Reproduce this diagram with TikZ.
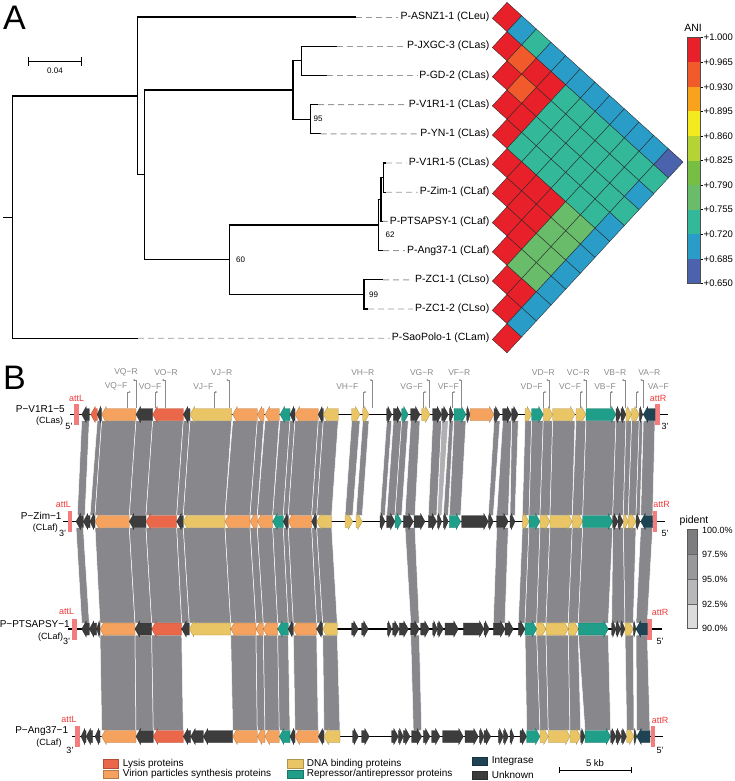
\documentclass[tikz,border=0pt]{standalone}
\usepackage{fontspec}
\setmainfont{Liberation Sans}
\usetikzlibrary{arrows.meta}
\definecolor{hR}{HTML}{E8202A}
\definecolor{hO}{HTML}{F15A2B}
\definecolor{hY}{HTML}{F8A31B}
\definecolor{hYe}{HTML}{F4EB1E}
\definecolor{hYG}{HTML}{B5D334}
\definecolor{hG}{HTML}{76BE44}
\definecolor{hLG}{HTML}{69BD6A}
\definecolor{hT}{HTML}{33B99A}
\definecolor{hB}{HTML}{2A9CC8}
\definecolor{hD}{HTML}{4B62AD}
\definecolor{gLy}{HTML}{EA6849}
\definecolor{gVi}{HTML}{F4A25D}
\definecolor{gDn}{HTML}{EAC565}
\definecolor{gRe}{HTML}{1F9E89}
\definecolor{gIn}{HTML}{1E4454}
\definecolor{gUn}{HTML}{3C3C3C}
\definecolor{rib}{HTML}{88888C}
\definecolor{ribl}{HTML}{B0B0B3}
\definecolor{attc}{HTML}{F47C7C}
\definecolor{atttx}{HTML}{EE3A3A}
\definecolor{prim}{HTML}{8A8A8A}
\definecolor{p1}{HTML}{7D7D80}
\definecolor{p2}{HTML}{98989B}
\definecolor{p3}{HTML}{B8B8BA}
\definecolor{p4}{HTML}{DCDCDD}
% heatmap cell (i,j): sheared diamond grid
\newcommand{\hc}[3]{\filldraw[fill=#3,draw=black!85,line width=0.35pt] ({507+14.67*(#2-#1)},{17+13.3*#2+15.9*#1-14.6}) -- ++(14.67,13.3) -- ++(-14.67,15.9) -- ++(-14.67,-13.3) -- cycle;}
\newcommand{\geneL}[3]{\pgfmathsetmacro{\hh}{min(4.5,(#2-#1)*0.75)}%
  \filldraw[fill=#3,draw=#3!75!black,line width=0.3pt] (#1,\ty) -- ({#1+\hh},{\ty-8}) -- ({#1+\hh},{\ty-6}) -- (#2,{\ty-6}) -- (#2,{\ty+6}) -- ({#1+\hh},{\ty+6}) -- ({#1+\hh},{\ty+8}) -- cycle;}
\newcommand{\geneR}[3]{\pgfmathsetmacro{\hh}{min(4.5,(#2-#1)*0.75)}%
  \filldraw[fill=#3,draw=#3!75!black,line width=0.3pt] (#2,\ty) -- ({#2-\hh},{\ty-8}) -- ({#2-\hh},{\ty-6}) -- (#1,{\ty-6}) -- (#1,{\ty+6}) -- ({#2-\hh},{\ty+6}) -- ({#2-\hh},{\ty+8}) -- cycle;}
\newcommand{\rib}[4]{\filldraw[fill=rib,draw=white,line width=0.5pt] (#1,\yt) -- (#2,\yt) -- (#4,\yb) -- (#3,\yb) -- cycle;}
\newcommand{\ribL}[4]{\filldraw[fill=ribl,draw=white,line width=0.5pt] (#1,\yt) -- (#2,\yt) -- (#4,\yb) -- (#3,\yb) -- cycle;}
\newcommand{\primF}[1]{\draw[prim,line width=0.5pt,-{Stealth[length=2pt,width=2pt]}] (#1,407.5) -- (#1,392) -- ++(3,0);}
\newcommand{\primR}[1]{\draw[prim,line width=0.5pt,-{Stealth[length=2pt,width=2pt]}] (#1,407.5) -- (#1,380) -- ++(-3,0);}
\begin{document}
\begin{tikzpicture}[x=1pt,y=-1pt,
  br/.style={line width=1.1pt,black},
  dsh/.style={line width=0.9pt,black!40,dash pattern=on 6pt off 4pt},
  leaf/.style={font=\fontsize{10.5}{12}\selectfont,inner sep=0,anchor=east},
  bs/.style={font=\fontsize{8}{9}\selectfont,inner sep=0,anchor=west},
  big/.style={font=\fontsize{34}{34}\selectfont,inner sep=0,anchor=base west},
  tick/.style={font=\fontsize{9.5}{11}\selectfont,inner sep=0,anchor=west},
  trk/.style={font=\fontsize{10}{12}\selectfont,inner sep=0,anchor=east},
  trks/.style={font=\fontsize{9}{11}\selectfont,inner sep=0,anchor=east},
  att/.style={font=\fontsize{9}{11}\selectfont,inner sep=0,text=atttx},
  pr/.style={font=\fontsize{8.5}{10}\selectfont,inner sep=0,text=prim},
  leg/.style={font=\fontsize{10}{12}\selectfont,inner sep=0,anchor=west},
  sw/.style={line width=0.4pt}]
\useasboundingbox (0,0) rectangle (735,781);
% ---------- Panel A ----------
\node[big] (labA) at (3,30) {A};
\node[big] (labB) at (3,389) {B};
% scale bar
\coordinate (sb1) at (28,61.7); \coordinate (sb2) at (81.3,61.7);
\draw[line width=1pt] (sb1) -- (sb2);
\draw[line width=1pt] (28,57.5) -- (28,66); \draw[line width=1pt] (81.3,57.5) -- (81.3,66);
\node[font=\fontsize{8}{9}\selectfont,inner sep=0] (sbt) at (55,70.5) {0.04};
% leaves (branch ends)
\coordinate (e0) at (356,17);
\coordinate (e1) at (336.7,46.2);
\coordinate (e2) at (326.7,75.4);
\coordinate (e3) at (318,104.6);
\coordinate (e4) at (320.7,133.8);
\coordinate (e5) at (386,163);
\coordinate (e6) at (386,192.2);
\coordinate (e7) at (383,221.4);
\coordinate (e8) at (383,250.6);
\coordinate (e9) at (383,279.8);
\coordinate (e10) at (368,309);
\coordinate (e11) at (138,338.2);
% internal nodes
\coordinate (nJG) at (301.3,60.8);
\coordinate (nVY) at (310.7,119.2);
\coordinate (nLas) at (293,90);
\coordinate (nVZ) at (383.3,177.6);
\coordinate (nVZP) at (381,199.5);
\coordinate (n62) at (378.3,225);
\coordinate (nZC) at (364,294.4);
\coordinate (n60) at (229.7,259.7);
\coordinate (nB) at (144.6,174.9);
\coordinate (nA) at (137.6,96);
\coordinate (nR) at (12.3,217.1);
\coordinate (nRs) at (3,217.1);
\draw[br] (e1) -| (nJG) |- (e2);
\draw[br] (e3) -| (nVY) |- (e4);
\draw[br] (nJG) -| (nLas) |- (nVY);
\draw[br] (e5) -| (nVZ) |- (e6);
\draw[br] (nVZ) -| (nVZP) |- (e7);
\draw[br] (nVZP) -| (n62) |- (e8);
\draw[br] (e9) -| (nZC) |- (e10);
\draw[br] (n62) -| (n60) |- (nZC);
\draw[br] (nLas) -| (nB) |- (n60);
\draw[br] (e0) -| (nA) |- (nB);
\draw[br] (nA) -| (nR) |- (e11);
\draw[br] (nRs) -- (nR);
\node[bs] (b95) at (313.5,119.2) {95};
\node[bs] (b60) at (236,259.7) {60};
\node[bs] (b62) at (385.5,235) {62};
\node[bs] (b99) at (369,295) {99};
% leaf labels
\foreach \i/\t in {0/P-ASNZ1-1 (CLeu),1/P-JXGC-3 (CLas),2/P-GD-2 (CLas),3/P-V1R1-1 (CLas),4/P-YN-1 (CLas),5/P-V1R1-5 (CLas),6/P-Zim-1 (CLaf),7/P-PTSAPSY-1 (CLaf),8/P-Ang37-1 (CLaf),9/P-ZC1-1 (CLso),10/P-ZC1-2 (CLso),11/P-SaoPolo-1 (CLam)}{
  \node[leaf] (L\i) at (489.5,{17+29.2*\i}) {\t};
  \draw[dsh] (e\i) -- ([xshift=-2pt]L\i.west);
}
% heatmap
\foreach \i in {0,...,11}{\hc{\i}{\i}{hR}}
\foreach \i/\j/\c in {0/1/hB,0/2/hT,0/3/hB,0/4/hB,0/5/hB,0/6/hB,0/7/hB,0/8/hB,0/9/hB,0/10/hB,0/11/hD,
  1/2/hO,1/3/hR,1/4/hR,1/5/hT,1/6/hT,1/7/hT,1/8/hT,1/9/hT,1/10/hT,1/11/hT,
  2/3/hO,2/4/hR,2/5/hT,2/6/hT,2/7/hT,2/8/hT,2/9/hT,2/10/hT,2/11/hB,
  3/4/hR,3/5/hT,3/6/hT,3/7/hT,3/8/hT,3/9/hT,3/10/hT,3/11/hT,
  4/5/hT,4/6/hT,4/7/hT,4/8/hT,4/9/hT,4/10/hT,4/11/hB,
  5/6/hR,5/7/hR,5/8/hR,5/9/hLG,5/10/hLG,5/11/hB,
  6/7/hR,6/8/hR,6/9/hLG,6/10/hLG,6/11/hB,
  7/8/hR,7/9/hLG,7/10/hLG,7/11/hB,
  8/9/hLG,8/10/hLG,8/11/hB,
  9/10/hR,9/11/hB,10/11/hB}{\hc{\i}{\j}{\c}}
% ANI legend
\node[font=\fontsize{10.5}{12}\selectfont,inner sep=0] (ani) at (693,28) {ANI};
\foreach \k/\c/\t in {0/hR/+1.000,1/hO/+0.965,2/hY/+0.930,3/hYe/+0.895,4/hYG/+0.860,5/hG/+0.825,6/hLG/+0.790,7/hT/+0.755,8/hB/+0.720,9/hD/+0.685}{
  \fill[\c] (687.3,{37.7+24.56*\k}) rectangle (700,{37.7+24.56*(\k+1)});
  \draw[line width=0.4pt] (700,{37.7+24.56*\k}) -- (702.5,{37.7+24.56*\k});
  \node[tick] (t\k) at (703.5,{37.7+24.56*\k}) {\t};
}
\draw[line width=0.4pt] (700,283.3) -- (702.5,283.3);
\node[tick] (t10) at (703.5,283.3) {+0.650};
\draw[line width=0.4pt,black!70] (687.3,37.7) rectangle (700,283.3);
% ---------- Panel B ----------
% ribbons T1->T2
\def\yt{420.5}\def\yb{515.5}
\rib{81.7}{89.3}{77.3}{85}
\rib{97.3}{101.7}{90}{95}
\rib{101.7}{136}{95}{129.3}
\rib{136}{152.7}{129.3}{146}
\rib{152.7}{183.3}{146}{176.7}
\rib{183.3}{190}{176.7}{183.3}
\rib{190}{231.7}{183.3}{225}
\rib{232.7}{257.3}{225}{250}
\rib{257.3}{264}{250}{257.3}
\rib{265}{279.3}{257.3}{272.7}
\rib{280}{290}{272.7}{283.3}
\rib{290}{295}{283.3}{288.3}
\rib{295}{318.3}{288.3}{311.7}
\rib{318.3}{323.3}{311.7}{316.7}
\rib{323.3}{338.3}{316.7}{331.7}
\rib{351.7}{360}{345}{352.7}
\rib{362.7}{369}{356}{362.3}
\rib{386.7}{391.7}{380}{385}
\rib{393.3}{401.7}{386.7}{395}
\rib{401.7}{408.3}{395}{401.7}
\rib{410.7}{420}{405}{415}
\rib{432.7}{441.7}{428.3}{436.7}
\ribL{441.7}{448.3}{437.3}{441.7}
\rib{449.3}{453.3}{443.3}{448.3}
\rib{454}{466}{449.3}{460.7}
\rib{494}{500}{488.3}{493.3}
\rib{502.7}{511.7}{496.7}{508.3}
\rib{511.7}{518.3}{510}{515}
\rib{525}{531.7}{522.3}{529}
\rib{531.7}{543.3}{529}{540}
\rib{543.3}{552.7}{540}{550}
\rib{552.7}{575}{550}{572.3}
\rib{576}{586}{572.3}{582.7}
\rib{586}{616}{582.7}{612.7}
\rib{616}{626}{612.7}{623.3}
\rib{626}{631.7}{623.3}{628.3}
\rib{631.7}{639.3}{628.3}{636}
\rib{639.3}{642.7}{636}{640}
\rib{643.3}{655}{640.7}{652.7}
% ribbons T2->T3
\def\yt{527.5}\def\yb{623}
\rib{76}{83.3}{81.7}{89.3}
\rib{95}{129.3}{100}{135}
\rib{129.3}{146}{135}{151.7}
\rib{146}{176.7}{151.7}{181.7}
\rib{176.7}{183.3}{181.7}{189.3}
\rib{183.3}{225}{189.3}{230.7}
\rib{225}{250}{230.7}{256}
\rib{250}{257.3}{256}{263.3}
\rib{257.3}{272.7}{263.3}{277.7}
\rib{272.7}{283.3}{277.7}{288.3}
\rib{283.3}{288.3}{288.3}{293.3}
\rib{288.3}{311.7}{293.3}{316.7}
\rib{311.7}{316.7}{316.7}{322.7}
\rib{316.7}{331.7}{322.7}{337.3}
\rib{405}{415}{410.7}{419.3}
\rib{496.7}{508.3}{493.3}{505}
\rib{522.3}{529}{518.3}{525}
\rib{529}{540}{525}{536.7}
\rib{540}{550}{536.7}{546}
\rib{550}{572.3}{546}{568.3}
\rib{572.3}{582.7}{568.3}{578.3}
\rib{582.7}{612.7}{578.3}{608.3}
\rib{612.7}{623.3}{611.7}{625}
\rib{623.3}{636}{625}{633.3}
\rib{640.7}{652.7}{636}{647.3}
% ribbons T3->T4
\def\yt{635}\def\yb{730.5}
\rib{100}{135}{101.7}{136}
\rib{135}{151.7}{136}{153.3}
\rib{151.7}{181.7}{153.3}{183.3}
\rib{230.7}{256}{232.7}{257.3}
\rib{256}{263.3}{257.3}{265}
\rib{263.3}{277.7}{265}{279.3}
\rib{277.7}{288.3}{279.3}{290}
\rib{293.3}{316.7}{295}{318.3}
\rib{322.7}{337.3}{324}{340}
\rib{410.7}{419.3}{413.3}{421.7}
\rib{525}{536.7}{526.7}{540}
\rib{536.7}{546}{540}{548.3}
\rib{546}{568.3}{548.3}{570}
\rib{568.3}{578.3}{570}{580.7}
\rib{578.3}{608.3}{585}{610.7}
\rib{625}{633.3}{626.7}{634}
\rib{636}{647.3}{636.7}{650}
% backbones
\draw[line width=1.2pt] (70,414.5) -- (668,414.5);
\draw[line width=1.2pt] (63.3,521.5) -- (665,521.5);
\draw[line width=1.2pt] (68.3,629) -- (661.7,629);
\draw[line width=1.2pt] (71.7,736.5) -- (663.3,736.5);
% att sites
\fill[attc] (74,404) rectangle (78.7,425);
\fill[attc] (655,404) rectangle (660,425);
\fill[attc] (67.7,511) rectangle (71.7,532);
\fill[attc] (652.7,511) rectangle (657.3,532);
\fill[attc] (71.7,618.5) rectangle (76.7,639.5);
\fill[attc] (647.3,618.5) rectangle (652,639.5);
\fill[attc] (75,726) rectangle (80,747);
\fill[attc] (650.7,726) rectangle (655.3,747);
% genes track 1
\def\ty{414.5}
\geneL{81.7}{89.3}{gUn}\geneL{90.7}{97.3}{gLy}\geneL{97.3}{101.7}{gUn}\geneL{101.7}{136}{gVi}
\geneL{136}{152.7}{gUn}\geneL{152.7}{183.3}{gLy}\geneL{183.3}{190}{gUn}\geneL{190}{231.7}{gDn}
\geneL{232.7}{257.3}{gVi}\geneL{257.3}{264}{gVi}\geneL{265}{279.3}{gVi}\geneL{280}{290}{gRe}
\geneL{290}{295}{gUn}\geneL{295}{318.3}{gVi}\geneL{318.3}{323.3}{gUn}\geneL{323.3}{338.3}{gDn}
\geneR{351.7}{360}{gDn}\geneR{362.7}{369}{gDn}\geneR{386.7}{391.7}{gUn}\geneR{393.3}{401.7}{gUn}
\geneR{401.7}{408.3}{gRe}\geneR{410.7}{420}{gUn}\geneR{421.7}{430}{gDn}\geneR{432.7}{441.7}{gUn}
\geneR{441.7}{448.3}{gUn}\geneR{449.3}{453.3}{gUn}\geneR{454}{466}{gRe}\geneR{466.7}{470}{gUn}
\geneR{470}{494}{gVi}\geneR{494}{500}{gUn}\geneR{502.7}{511.7}{gUn}\geneR{511.7}{518.3}{gUn}
\geneR{525}{531.7}{gDn}\geneR{531.7}{543.3}{gRe}\geneR{543.3}{552.7}{gDn}\geneR{552.7}{575}{gDn}
\geneR{576}{586}{gDn}\geneR{586}{616}{gRe}\geneR{616}{621}{gUn}\geneR{621}{626}{gUn}
\geneR{626}{631.7}{gDn}\geneR{631.7}{639.3}{gDn}\geneR{639.3}{642.7}{gUn}\geneL{643.3}{655}{gIn}
% genes track 2
\def\ty{521.5}
\geneL{76}{83.3}{gUn}\geneL{83.3}{90}{gUn}\geneL{90}{95}{gUn}\geneL{95}{129.3}{gVi}
\geneL{129.3}{146}{gUn}\geneL{146}{176.7}{gLy}\geneL{176.7}{183.3}{gUn}\geneL{183.3}{225}{gDn}
\geneL{225}{250}{gVi}\geneL{250}{257.3}{gVi}\geneL{257.3}{272.7}{gVi}\geneL{272.7}{283.3}{gRe}
\geneL{283.3}{288.3}{gUn}\geneL{288.3}{311.7}{gVi}\geneL{311.7}{316.7}{gUn}\geneL{316.7}{331.7}{gDn}
\geneR{345}{352.7}{gDn}\geneR{356}{362.3}{gDn}\geneR{380}{385}{gUn}\geneR{386.7}{395}{gUn}
\geneR{395}{401.7}{gRe}\geneR{403.3}{413.3}{gUn}\geneR{414}{425}{gUn}\geneR{428.3}{436.7}{gUn}
\geneR{437.3}{441.7}{gUn}\geneR{443.3}{448.3}{gUn}\geneR{449.3}{460.7}{gRe}\geneR{461.7}{488.3}{gUn}
\geneR{488.3}{493.3}{gUn}\geneR{496.7}{508.3}{gUn}\geneR{510}{515}{gUn}\geneR{522.3}{529}{gDn}
\geneR{529}{540}{gRe}\geneR{540}{550}{gDn}\geneR{550}{572.3}{gDn}\geneR{572.3}{582.7}{gDn}
\geneR{582.7}{612.7}{gRe}\geneR{612.7}{618}{gUn}\geneR{618}{623.3}{gUn}\geneR{623.3}{628.3}{gDn}
\geneR{628.3}{636}{gDn}\geneR{636}{640}{gUn}\geneL{640.7}{652.7}{gIn}
% genes track 3
\def\ty{629}
\geneL{81.7}{89.3}{gUn}\geneL{89.3}{96.7}{gUn}\geneL{96.7}{100}{gUn}\geneL{100}{135}{gVi}
\geneL{135}{151.7}{gUn}\geneL{151.7}{181.7}{gLy}\geneL{181.7}{189.3}{gUn}\geneL{189.3}{230.7}{gDn}
\geneL{230.7}{256}{gVi}\geneL{256}{263.3}{gVi}\geneL{263.3}{277.7}{gVi}\geneL{277.7}{288.3}{gRe}
\geneL{288.3}{293.3}{gUn}\geneL{293.3}{316.7}{gVi}\geneL{316.7}{322.7}{gUn}\geneL{322.7}{337.3}{gDn}
\geneR{351.7}{358.3}{gUn}\geneR{361.7}{368.3}{gUn}\geneR{387.3}{391.7}{gUn}\geneR{392.7}{399.3}{gUn}
\geneR{399.3}{408.3}{gUn}\geneR{410.7}{419.3}{gUn}\geneR{420.7}{429.3}{gUn}\geneR{432.7}{437.3}{gUn}
\geneR{437.3}{443.3}{gUn}\geneR{445}{458.3}{gUn}\geneR{463.3}{484}{gUn}\geneR{484}{489.3}{gUn}
\geneR{493.3}{505}{gUn}\geneR{505}{513.3}{gUn}\geneR{518.3}{525}{gUn}\geneR{525}{536.7}{gRe}
\geneR{536.7}{546}{gDn}\geneR{546}{568.3}{gDn}\geneR{568.3}{578.3}{gDn}\geneR{578.3}{608.3}{gRe}
\geneR{611.7}{616}{gUn}\geneR{616}{620.5}{gUn}\geneR{620.5}{625}{gUn}\geneR{625}{633.3}{gDn}
\geneR{633.3}{636}{gUn}\geneL{636}{647.3}{gIn}
% genes track 4
\def\ty{736.5}
\geneL{81}{86}{gUn}\geneL{86}{92.7}{gUn}\geneL{95}{100}{gUn}\geneL{101.7}{136}{gVi}
\geneL{136}{153.3}{gUn}\geneL{153.3}{183.3}{gLy}\geneL{183.3}{190.7}{gUn}\geneL{190.7}{203.3}{gUn}
\geneL{203.3}{232.7}{gUn}\geneL{232.7}{257.3}{gVi}\geneL{257.3}{265}{gVi}\geneL{265}{279.3}{gVi}
\geneL{279.3}{290}{gRe}\geneL{290}{295}{gUn}\geneL{295}{318.3}{gVi}\geneL{318.3}{324}{gUn}
\geneL{324}{340}{gDn}
\geneR{352.7}{358.3}{gUn}\geneR{361.7}{369.3}{gUn}\geneR{391.7}{398.3}{gUn}\geneR{398.3}{403.3}{gUn}
\geneR{403.3}{410}{gUn}\geneR{411.7}{421.7}{gUn}\geneR{423.3}{430}{gUn}\geneR{431.7}{440}{gUn}
\geneR{442.7}{463.3}{gUn}\geneR{465}{478.3}{gUn}\geneR{479.3}{484}{gUn}\geneR{484}{490.7}{gUn}
\geneR{498.3}{503.3}{gUn}\geneR{503.3}{508.3}{gUn}\geneR{510}{514}{gUn}\geneR{520}{526.7}{gUn}
\geneR{526.7}{540}{gRe}\geneR{540}{548.3}{gDn}\geneR{548.3}{570}{gDn}\geneR{570}{580.7}{gDn}
\geneR{580.7}{585}{gUn}\geneR{585}{610.7}{gRe}\geneR{610.7}{616}{gUn}\geneR{616}{621.3}{gUn}
\geneR{621.3}{626.7}{gUn}\geneR{626.7}{634}{gDn}\geneR{634}{636.7}{gUn}\geneL{636.7}{650}{gIn}
% track labels
\node[trk] (n1) at (65,409) {P−V1R1−5};
\node[trks] (c1) at (63.3,421) {(CLas)};
\node[trk] (n2) at (61.7,515.5) {P−Zim−1};
\node[trks] (c2) at (58,528) {(CLaf)};
\node[trk] (n3) at (70,624.5) {P−PTSAPSY−1};
\node[trks] (c3) at (63.3,637) {(CLaf)};
\node[trk] (n4) at (68.3,731.5) {P−Ang37−1};
\node[trks] (c4) at (61.7,743.5) {(CLaf)};
% att labels and ends
\node[att] (aL1) at (76.7,398.5) {attL};
\node[att] (aR1) at (658,398.5) {attR};
\node[att] (aL2) at (63.3,504.5) {attL};
\node[att] (aR2) at (661.7,504.5) {attR};
\node[att] (aL3) at (66.7,611.5) {attL};
\node[att] (aR3) at (660,612.7) {attR};
\node[att] (aL4) at (69,719.5) {attL};
\node[att] (aR4) at (660,720.5) {attR};
\node[font=\fontsize{9}{11}\selectfont,inner sep=0] (p1a) at (69,426) {5'};
\node[font=\fontsize{9}{11}\selectfont,inner sep=0] (p1b) at (665,426) {3'};
\node[font=\fontsize{9}{11}\selectfont,inner sep=0] (p2a) at (62.7,533.5) {3'};
\node[font=\fontsize{9}{11}\selectfont,inner sep=0] (p2b) at (665,533.5) {5'};
\node[font=\fontsize{9}{11}\selectfont,inner sep=0] (p3a) at (66.7,641) {3'};
\node[font=\fontsize{9}{11}\selectfont,inner sep=0] (p3b) at (660,641) {5'};
\node[font=\fontsize{9}{11}\selectfont,inner sep=0] (p4a) at (70,750) {3'};
\node[font=\fontsize{9}{11}\selectfont,inner sep=0] (p4b) at (660,750) {5'};
% primers
\primF{127.7}\primR{136}\primF{155}\primR{165}\primF{214}\primR{229.3}
\primF{363.3}\primR{372.7}\primF{423.3}\primR{429.3}\primF{452.3}\primR{461.7}
\primF{543.3}\primR{549.3}\primF{580}\primR{586}\primF{610}\primR{625}\primF{636}\primR{643.3}
\foreach \t/\x in {VQ/126,VO/166,VJ/221.7,VH/362.7,VG/421.7,VF/459.3,VD/543.3,VC/578.3,VB/615,VA/649.3}{
  \node[pr] (\t R) at (\x,372.7) {\t−R};}
\foreach \t/\x in {VQ/116,VO/150,VJ/203.3,VH/347.3,VG/411.7,VF/448.3,VD/531.7,VC/570,VB/605,VA/658.3}{
  \node[pr] (\t F) at (\x,386.7) {\t−F};}
% legend
\filldraw[fill=gLy,draw=gLy!75!black,sw] (103.3,759.3) rectangle (118.3,767.7);
\node[leg] (lg1) at (122.7,763.5) {Lysis proteins};
\filldraw[fill=gVi,draw=gVi!75!black,sw] (103.3,770) rectangle (118.3,778.3);
\node[leg] (lg2) at (122.7,774.2) {Virion particles synthesis proteins};
\filldraw[fill=gDn,draw=gDn!75!black,sw] (287.3,759.3) rectangle (302.7,767.7);
\node[leg] (lg3) at (306.7,763.5) {DNA binding proteins};
\filldraw[fill=gRe,draw=gRe!75!black,sw] (287.3,770) rectangle (302.7,778.3);
\node[leg] (lg4) at (306.7,774.2) {Repressor/antirepressor proteins};
\filldraw[fill=gIn,draw=gIn!75!black,sw] (471.7,757) rectangle (486.7,765.3);
\node[leg] (lg5) at (491.7,761) {Integrase};
\filldraw[fill=gUn,draw=gUn!75!black,sw] (471.7,771) rectangle (486.7,779.3);
\node[leg] (lg6) at (491.7,775) {Unknown};
\coordinate (kb1) at (559,770); \coordinate (kb2) at (631.7,770);
\draw[line width=0.6pt] (kb1) -- (kb2);
\draw[line width=0.6pt] (559,767) -- (559,773); \draw[line width=0.6pt] (631.7,767) -- (631.7,773);
\node[font=\fontsize{9.5}{11}\selectfont,inner sep=0] (kbt) at (595,763.5) {5 kb};
% pident legend
\node[font=\fontsize{10.5}{12}\selectfont,inner sep=0] (pid) at (694,520.7) {pident};
\fill[p1] (687.3,529.3) rectangle (697.3,554);
\fill[p2] (687.3,554) rectangle (697.3,579.3);
\fill[p3] (687.3,579.3) rectangle (697.3,604);
\fill[p4] (687.3,604) rectangle (697.3,628.3);
\draw[line width=0.4pt,black!60] (687.3,554) -- (697.3,554) (687.3,579.3) -- (697.3,579.3) (687.3,604) -- (697.3,604);
\draw[line width=0.5pt,black!65] (687.3,529.3) rectangle (697.3,628.3);
\foreach \t/\y in {100.0\%/530.7,97.5\%/554,95.0\%/579.3,92.5\%/604,90.0\%/628.3}{
  \node[font=\fontsize{9}{11}\selectfont,inner sep=0,anchor=west] at (702,\y) {\t};}
\end{tikzpicture}
\end{document}
